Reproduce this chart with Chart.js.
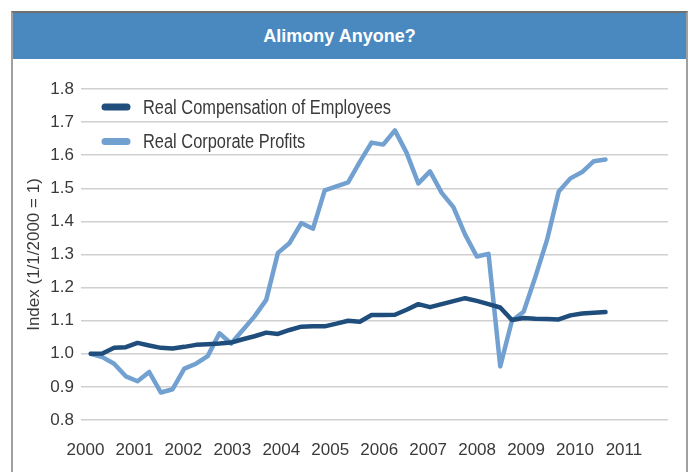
<!DOCTYPE html>
<html>
<head>
<meta charset="utf-8">
<title>Alimony Anyone?</title>
<script src="https://cdn.jsdelivr.net/npm/chart.js@4.4.1/dist/chart.umd.min.js"></script>
<style>
    html, body { margin: 0; padding: 0; background: #fff; width: 689px; height: 472px; overflow: hidden; }
    #frame { position: absolute; left: 11px; top: 11px; width: 673px; height: 480px; border: 2px solid #a0a0a0; border-top-color: #707070; }
    #title { position: absolute; left: 0; top: 0; width: 100%; height: 46px; background: #4a89bf; color: #fff;
             font: bold 18px "Liberation Sans", Arial, sans-serif; line-height: 46px; text-align: center;
             padding-right: 20px; box-sizing: border-box; }
    #chart-box { position: absolute; left: 0; top: 0; width: 689px; height: 472px; }
</style>
</head>
<body>
<div id="frame"><div id="title">Alimony Anyone?</div></div>
<div id="chart-box"><canvas id="alimony-chart"></canvas></div>
<script>
// Quarterly index values, 1/1/2000 = 1
const quarters = [
    '2000Q1', '2000Q2', '2000Q3', '2000Q4', '2001Q1', '2001Q2', '2001Q3', '2001Q4',
    '2002Q1', '2002Q2', '2002Q3', '2002Q4', '2003Q1', '2003Q2', '2003Q3', '2003Q4',
    '2004Q1', '2004Q2', '2004Q3', '2004Q4', '2005Q1', '2005Q2', '2005Q3', '2005Q4',
    '2006Q1', '2006Q2', '2006Q3', '2006Q4', '2007Q1', '2007Q2', '2007Q3', '2007Q4',
    '2008Q1', '2008Q2', '2008Q3', '2008Q4', '2009Q1', '2009Q2', '2009Q3', '2009Q4',
    '2010Q1', '2010Q2', '2010Q3', '2010Q4', '2011Q1'
];
const compensation = [
    1.000, 1.001, 1.018, 1.020, 1.033, 1.025, 1.018, 1.016, 1.021, 1.027,
    1.029, 1.031, 1.034, 1.044, 1.053, 1.064, 1.060, 1.072, 1.082, 1.083,
    1.083, 1.091, 1.100, 1.097, 1.117, 1.117, 1.118, 1.133, 1.150, 1.141,
    1.150, 1.159, 1.168, 1.160, 1.150, 1.140, 1.102, 1.108, 1.106, 1.105,
    1.104, 1.116, 1.122, 1.124, 1.126
];
const profits = [
    1.000, 0.990, 0.970, 0.932, 0.917, 0.945, 0.883, 0.893, 0.955, 0.970,
    0.993, 1.062, 1.031, 1.072, 1.113, 1.163, 1.305, 1.335, 1.395, 1.378,
    1.494, 1.506, 1.518, 1.580, 1.638, 1.632, 1.675, 1.607, 1.515, 1.551,
    1.486, 1.443, 1.360, 1.294, 1.302, 0.962, 1.100, 1.127, 1.232, 1.344,
    1.490, 1.530, 1.549, 1.582, 1.587
];
const yearTicks = [2000, 2001, 2002, 2003, 2004, 2005, 2006, 2007, 2008, 2009, 2010, 2011];
const seriesNames = ['Real Compensation of Employees', 'Real Corporate Profits'];

const DARK = '#1f4e7d';
const LIGHT = '#72a1d1';
const TEXT = '#3a3a3a';
const FONT = '"Liberation Sans", Arial, sans-serif';

// leyenda dentro del área del gráfico (líneas con extremos redondeados, texto estrecho)
const insideLegend = {
    id: 'insideLegend',
    afterDatasetsDraw(chart) {
        const { ctx, chartArea } = chart;
        ctx.save();
        chart.data.datasets.forEach((ds, i) => {
            const y = chartArea.top + 18 + i * 34.5;
            ctx.strokeStyle = ds.borderColor;
            ctx.lineWidth = 7;
            ctx.lineCap = 'round';
            ctx.beginPath();
            ctx.moveTo(chartArea.left + 24, y);
            ctx.lineTo(chartArea.left + 46, y);
            ctx.stroke();

            ctx.save();
            ctx.translate(chartArea.left + 62, y + 6.6);
            ctx.scale(0.82, 1);
            ctx.fillStyle = TEXT;
            ctx.font = '20px ' + FONT;
            ctx.textBaseline = 'alphabetic';
            ctx.fillText(ds.label, 0, 0);
            ctx.restore();
        });
        ctx.restore();
    }
};

const toPoints = arr => arr.map((v, i) => ({ x: i, y: v }));

new Chart(document.getElementById('alimony-chart').getContext('2d'), {
    type: 'line',
    data: {
        labels: quarters,
        datasets: [{
            label: seriesNames[0],
            data: toPoints(compensation),
            borderColor: DARK,
            backgroundColor: DARK,
            borderWidth: 4.5
        }, {
            label: seriesNames[1],
            data: toPoints(profits),
            borderColor: LIGHT,
            backgroundColor: LIGHT,
            borderWidth: 4.5
        }]
    },
    options: {
        responsive: true,
        maintainAspectRatio: false,
        animation: false,
        layout: { padding: { left: 0, top: 89, right: 21, bottom: 0 } },
        elements: {
            point: { radius: 0, hoverRadius: 0 },
            line: { tension: 0, borderJoinStyle: 'round', borderCapStyle: 'round' }
        },
        plugins: {
            legend: { display: false },
            tooltip: { enabled: false }
        },
        scales: {
            x: { type: 'linear', display: false, min: -0.83, max: 49.34 },
            year: {
                type: 'linear',
                axis: 'x',
                position: 'bottom',
                min: 1999.908,
                max: 2011.9,
                grid: { display: false, drawTicks: false },
                border: { display: false },
                afterBuildTicks: (s) => { s.ticks = yearTicks.map(v => ({ value: v })); },
                afterFit: (s) => { s.height = 52; },
                ticks: {
                    autoSkip: false,
                    maxRotation: 0,
                    padding: 20,
                    color: TEXT,
                    font: { family: FONT, size: 17 },
                    callback: (v) => String(v)
                }
            },
            y: {
                min: 0.8,
                max: 1.8,
                grid: { color: '#d0d0d0', lineWidth: 1.5, drawTicks: false },
                border: { display: false },
                afterFit: (s) => { s.width = 81; },
                ticks: {
                    stepSize: 0.1,
                    padding: 7,
                    color: TEXT,
                    font: { family: FONT, size: 17 },
                    callback: (v) => v.toFixed(1)
                },
                title: {
                    display: true,
                    text: 'Index (1/1/2000 = 1)',
                    color: TEXT,
                    font: { family: FONT, size: 17 },
                    padding: { top: 24, bottom: 0 }
                }
            }
        }
    },
    plugins: [insideLegend]
});
</script>
</body>
</html>
